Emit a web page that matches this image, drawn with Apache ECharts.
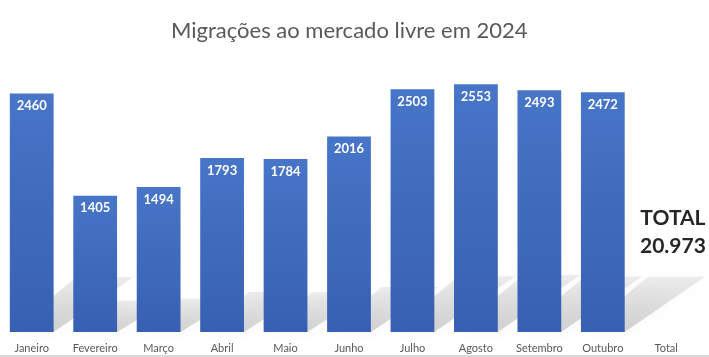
<!DOCTYPE html>
<html>
<head>
<meta charset="utf-8">
<script src="https://cdn.jsdelivr.net/npm/echarts@6/dist/echarts.min.js"></script>
<style>
html,body{margin:0;padding:0;background:#fff;}
#c{width:709px;height:357px;}
</style>
</head>
<body>
<div id="c"></div>
<script>
const titleText = 'Migrações ao mercado livre em 2024';
const categories = ['Janeiro','Fevereiro','Março','Abril','Maio','Junho','Julho','Agosto','Setembro','Outubro','Total'];
const monthlyValues = [2460,1405,1494,1793,1784,2016,2503,2553,2493,2472];
const totalLabel = 'TOTAL';

const total = monthlyValues.reduce((a,b)=>a+b,0);
const totalText = total.toLocaleString('pt-BR');
const barValues = monthlyValues.concat([null]);
const shadowData = monthlyValues.map((v,i)=>[i,v]);

const chart = echarts.init(document.getElementById('c'));
const FONT = 'Lato, "Open Sans", sans-serif';

chart.setOption({
  animation:false,
  backgroundColor:'#ffffff',
  title:{
    text:titleText, left:166, top:15,
    textStyle:{fontFamily:FONT, fontSize:22, fontWeight:'normal', color:'#595959'}
  },
  grid:{left:0, right:11, top:41, bottom:25},
  xAxis:{
    type:'category', data:categories,
    axisLine:{show:false}, axisTick:{show:false},
    axisLabel:{fontFamily:FONT, fontSize:11, color:'#595959', margin:11, interval:0}
  },
  yAxis:{type:'value', min:0, max:3000, show:false, splitLine:{show:false}},
  graphic:[
    {type:'text', left:640, top:204, style:{text:totalLabel+'\n'+totalText, font:'bold 21px '+FONT, fill:'#262626', lineHeight:28, textAlign:'center'}},
    {type:'rect', left:0, top:355, shape:{width:709, height:2}, style:{fill:'#d9d9d9'}}
  ],
  series:[
    {
      type:'custom', z:1, silent:true,
      data:shadowData,
      renderItem:function(params, api){
        const idx = api.value(0), v = api.value(1);
        const base = api.coord([idx,0]);
        const top = api.coord([idx,v]);
        const bw = api.size([1,0])[0]*0.69;
        const h = base[1]-top[1];
        const sh = h*0.23, sx = h*0.28;
        const x0 = base[0]-bw/2, x1 = base[0]+bw/2, y0 = base[1];
        const tw = bw*1.3;
        return {
          type:'polygon',
          shape:{points:[[x0,y0],[x1,y0],[x0+sx+tw,y0-sh],[x0+sx,y0-sh]]},
          style:{
            fill:new echarts.graphic.LinearGradient(0,1,0,0,[
              {offset:0,color:'rgba(0,0,0,0.17)'},
              {offset:1,color:'rgba(0,0,0,0.07)'}
            ]),
            shadowBlur:14, shadowColor:'rgba(0,0,0,0.2)'
          }
        };
      }
    },
    {
      type:'bar', z:3, data:barValues, barWidth:'69%',
      itemStyle:{
        color:new echarts.graphic.LinearGradient(0,0,0,1,[
          {offset:0,color:'#4775c7'},
          {offset:1,color:'#3860b2'}
        ])
      },
      label:{show:true, position:'insideTop', distance:6, fontFamily:FONT, fontSize:13, fontWeight:'bold', color:'#ffffff'}
    }
  ]
});
</script>
</body>
</html>
